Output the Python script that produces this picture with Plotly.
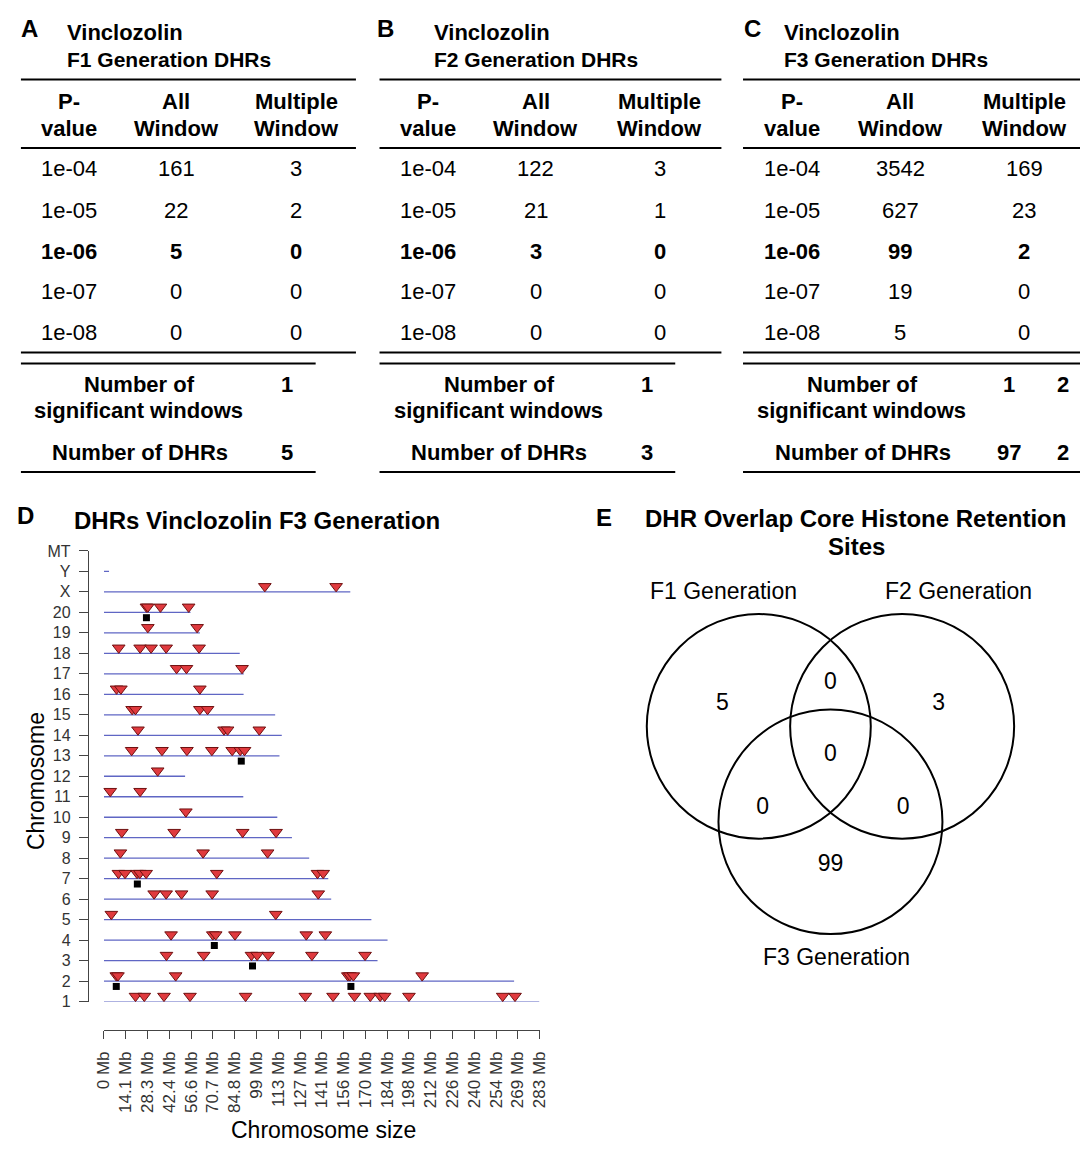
import plotly.graph_objects as go

# The page body has an 8px default margin; the figure is sized and mapped to fill
# the visible window region exactly.
PAGE_OFF = 8
W, H = 1090 - PAGE_OFF, 1150 - PAGE_OFF
FONT = "Liberation Sans, Arial, Helvetica, sans-serif"


def px(x):
    return (x - PAGE_OFF) / W


def py(y):
    return 1 - (y - PAGE_OFF) / H


# ---------------- Tables A-C data ----------------
p_values = ["1e-04", "1e-05", "1e-06", "1e-07", "1e-08"]
bold_p_value = "1e-06"
f1_all_window = [161, 22, 5, 0, 0]
f1_multiple_window = [3, 2, 0, 0, 0]
f2_all_window = [122, 21, 3, 0, 0]
f2_multiple_window = [3, 1, 0, 0, 0]
f3_all_window = [3542, 627, 99, 19, 5]
f3_multiple_window = [169, 23, 2, 0, 0]
f1_significant_windows = [1]
f1_number_of_dhrs = [5]
f2_significant_windows = [1]
f2_number_of_dhrs = [3]
f3_significant_windows = [1, 2]
f3_number_of_dhrs = [97, 2]
table_generations = ["F1", "F2", "F3"]
table_letters = ["A", "B", "C"]

# ---------------- Panel D data (rat genome, Mb) ----------------
chrom_labels = ["1", "2", "3", "4", "5", "6", "7", "8", "9", "10", "11", "12", "13",
                "14", "15", "16", "17", "18", "19", "20", "X", "Y", "MT"]
chrom_length_mb = [282.8, 266.4, 177.7, 184.2, 173.7, 147.6, 145.7, 133.3, 122.1, 112.6,
                   90.5, 52.7, 114.0, 115.5, 111.2, 90.7, 90.8, 88.2, 62.3, 56.2,
                   160.0, 3.3, 0.016]

dhr_chr1 = [20.5, 26.2, 39.0, 55.9, 92.0, 130.8, 148.8, 162.7, 173.0, 179.4, 182.3, 198.1, 259.0, 267.0]
dhr_chr2 = [8.0, 9.1, 46.6, 158.4, 159.7, 162.0, 206.7]
dhr_chr3 = [40.6, 64.8, 95.8, 99.5, 106.6, 135.1, 169.6]
dhr_chr4 = [43.6, 70.7, 72.6, 85.1, 131.4, 143.8]
dhr_chr5 = [4.8, 111.6]
dhr_chr6 = [32.6, 40.4, 50.4, 70.3, 139.2]
dhr_chr7 = [9.4, 13.7, 21.5, 23.3, 27.4, 73.3, 138.7, 142.4]
dhr_chr8 = [10.7, 64.4, 106.3]
dhr_chr9 = [11.6, 45.6, 90.1, 111.8]
dhr_chr10 = [53.2]
dhr_chr11 = [4.1, 23.5]
dhr_chr12 = [34.9]
dhr_chr13 = [18.0, 37.7, 53.9, 70.1, 83.3, 88.5, 91.3]
dhr_chr14 = [22.1, 78.0, 80.3, 100.9]
dhr_chr15 = [18.3, 20.5, 62.3, 67.3]
dhr_chr16 = [8.2, 11.0, 62.3]
dhr_chr17 = [47.2, 53.6, 89.7]
dhr_chr18 = [9.6, 23.5, 30.6, 40.4, 61.8]
dhr_chr19 = [28.5, 60.5]
dhr_chr20 = [27.6, 28.5, 36.7, 55.0]
dhr_chrX = [104.5, 150.8]
dhr_chrY = []
dhr_chrMT = []

multi_dhr_chrom = ["1", "2", "2", "3", "4", "7", "13", "20"]
multi_dhr_mb = [148.3, 8.0, 160.4, 96.5, 71.7, 21.7, 89.2, 27.6]

x_tick_labels = ["0 Mb", "14.1 Mb", "28.3 Mb", "42.4 Mb", "56.6 Mb", "70.7 Mb", "84.8 Mb",
                 "99 Mb", "113 Mb", "127 Mb", "141 Mb", "156 Mb", "170 Mb", "184 Mb",
                 "198 Mb", "212 Mb", "226 Mb", "240 Mb", "254 Mb", "269 Mb", "283 Mb"]
x_tick_values = [0, 14.15, 28.3, 42.45, 56.6, 70.75, 84.9, 99.05, 113.2, 127.35, 141.5,
                 155.65, 169.8, 183.95, 198.1, 212.25, 226.4, 240.55, 254.7, 268.85, 283.0]

# ---------------- Panel E data ----------------
venn_set_labels = ["F1 Generation", "F2 Generation", "F3 Generation"]
venn_regions = ["F1 only", "F2 only", "F3 only", "F1&F2", "F1&F3", "F2&F3", "F1&F2&F3"]
venn_counts = [5, 3, 99, 0, 0, 0, 0]

# =============== layout ===============
annotations = []
shapes = []


def text(x, y, s, size=22, bold=False, xanchor="center", color="black", angle=0):
    annotations.append(dict(
        x=px(x), y=py(y), xref="paper", yref="paper",
        text=f"<b>{s}</b>" if bold else s, showarrow=False,
        xanchor=xanchor, yanchor="middle", textangle=angle,
        font=dict(size=size, color=color, family=FONT)))


def hline(x0, x1, y, width=2):
    shapes.append(dict(type="line", xref="paper", yref="paper",
                       x0=px(x0), x1=px(x1), y0=py(y), y1=py(y),
                       line=dict(color="black", width=width)))


table_specs = [
    dict(letter_x=21, title_x=57, left=12, right=353, short_right=312,
         cols=(61, 170, 292), sum_label_x=133, sum_val_x=[283],
         all_w=f1_all_window, multi_w=f1_multiple_window,
         sig=f1_significant_windows, dhrs=f1_number_of_dhrs),
    dict(letter_x=383, title_x=430, left=377, right=725, short_right=678,
         cols=(426, 536, 662), sum_label_x=499, sum_val_x=[649],
         all_w=f2_all_window, multi_w=f2_multiple_window,
         sig=f2_significant_windows, dhrs=f2_number_of_dhrs),
    dict(letter_x=757, title_x=787, left=747, right=1090, short_right=1090,
         cols=(797, 907, 1033), sum_label_x=869, sum_val_x=[1018, 1073],
         all_w=f3_all_window, multi_w=f3_multiple_window,
         sig=f3_significant_windows, dhrs=f3_number_of_dhrs),
]
row_y = [163.3, 205, 246.7, 288, 329.5]

for letter, gen, spec in zip(table_letters, table_generations, table_specs):
    text(spec["letter_x"], 21, letter, size=24, bold=True)
    text(spec["title_x"], 25, "Vinclozolin", size=22, bold=True, xanchor="left")
    text(spec["title_x"], 52, f"{gen} Generation DHRs", size=21, bold=True, xanchor="left")
    hline(spec["left"], spec["right"], 72.5)
    c0, c1, c2 = spec["cols"]
    text(c0, 95, "P-", bold=True)
    text(c0, 122, "value", bold=True)
    text(c1, 95, "All", bold=True)
    text(c1, 122, "Window", bold=True)
    text(c2, 95, "Multiple", bold=True)
    text(c2, 122, "Window", bold=True)
    hline(spec["left"], spec["right"], 142)
    for yy, pv, a, m in zip(row_y, p_values, spec["all_w"], spec["multi_w"]):
        b = pv == bold_p_value
        text(c0, yy, pv, bold=b)
        text(c1, yy, str(a), bold=b)
        text(c2, yy, str(m), bold=b)
    hline(spec["left"], spec["right"], 349.5)
    hline(spec["left"], spec["short_right"], 360.7)
    text(spec["sum_label_x"], 381.7, "Number of", bold=True)
    text(spec["sum_label_x"] - 1, 408.3, "significant windows", bold=True)
    text(spec["sum_label_x"], 451.5, "Number of DHRs", bold=True)
    for xv, s in zip(spec["sum_val_x"], spec["sig"]):
        text(xv, 381.7, str(s), bold=True)
    for xv, d in zip(spec["sum_val_x"], spec["dhrs"]):
        text(xv, 451.5, str(d), bold=True)
    hline(spec["left"], spec["short_right"], 471)

# ---------------- Panel D ----------------
fig = go.Figure()

dhr_by_chrom = [dhr_chr1, dhr_chr2, dhr_chr3, dhr_chr4, dhr_chr5, dhr_chr6, dhr_chr7,
                dhr_chr8, dhr_chr9, dhr_chr10, dhr_chr11, dhr_chr12, dhr_chr13, dhr_chr14,
                dhr_chr15, dhr_chr16, dhr_chr17, dhr_chr18, dhr_chr19, dhr_chr20,
                dhr_chrX, dhr_chrY, dhr_chrMT]
chrom_pos = {lab: i + 1 for i, lab in enumerate(chrom_labels)}

line_x, line_y = [], []
for lab, L in zip(chrom_labels, chrom_length_mb):
    line_x += [0, L, None]
    line_y += [chrom_pos[lab]] * 2 + [None]
fig.add_trace(go.Scatter(x=line_x, y=line_y, mode="lines",
                         line=dict(color="#5f66c4", width=1.3),
                         cliponaxis=False, showlegend=False, hoverinfo="skip"))

TRI_OFF, SQ_OFF = 0.27, -0.26
tri_x, tri_y = [], []
for lab, positions in zip(chrom_labels, dhr_by_chrom):
    tri_x += positions
    tri_y += [chrom_pos[lab] + TRI_OFF] * len(positions)
fig.add_trace(go.Scatter(x=tri_x, y=tri_y, mode="markers",
                         marker=dict(symbol="triangle-down", size=11, color="#e03a3e",
                                     line=dict(color="#6e1010", width=1)),
                         cliponaxis=False, showlegend=False))
fig.add_trace(go.Scatter(x=multi_dhr_mb,
                         y=[chrom_pos[c] + SQ_OFF for c in multi_dhr_chrom],
                         mode="markers",
                         marker=dict(symbol="square", size=7, color="black"),
                         cliponaxis=False, showlegend=False))

text(17, 515, "D", size=24, bold=True)
text(64, 520, "DHRs Vinclozolin F3 Generation", size=24, bold=True, xanchor="left")
text(28, 785, "Chromosome", size=23, angle=-90)
text(320, 1139, "Chromosome size", size=23)

# ---------------- Panel E ----------------
R_PX = 114.0
ORIGIN = (836, 761)
venn_x_dom = (600, 1085)
venn_y_dom = (560, 990)
venn_center_x = [-0.64, 0.64, 0.0]
venn_center_y = [0.28, 0.28, -0.57]
venn_label_x = [-0.965, 0.965, 0.0, 0.0, -0.605, 0.65, 0.0]
venn_label_y = [0.48, 0.48, -0.956, 0.667, -0.447, -0.447, 0.02]

for cx, cy in zip(venn_center_x, venn_center_y):
    shapes.append(dict(type="circle", xref="x2", yref="y2",
                       x0=cx - 1, x1=cx + 1, y0=cy - 1, y1=cy + 1,
                       line=dict(color="black", width=2)))
fig.add_trace(go.Scatter(x=venn_label_x, y=venn_label_y, mode="text",
                         text=[str(c) for c in venn_counts],
                         textfont=dict(size=23, color="black", family=FONT),
                         xaxis="x2", yaxis="y2", showlegend=False,
                         hovertext=venn_regions, hoverinfo="text"))

text(605, 517, "E", size=24, bold=True)
text(861, 518, "DHR Overlap Core Histone Retention", size=24, bold=True)
text(863, 547, "Sites", size=24, bold=True)
text(727, 592, venn_set_labels[0], size=23)
text(966, 592, venn_set_labels[1], size=23)
text(842, 963, venn_set_labels[2], size=23)

x_axis_font = dict(size=17, color="#333333", family=FONT)
y_axis_font = dict(size=16, color="#333333", family=FONT)
fig.update_layout(
    width=W, height=H,
    margin=dict(l=0, r=0, t=0, b=0),
    paper_bgcolor="white", plot_bgcolor="white",
    showlegend=False,
    xaxis=dict(domain=[px(96.5), px(540)], range=[0, 283], anchor="free",
               position=py(1037), showline=True, linecolor="#444", linewidth=1,
               ticks="outside", ticklen=8, tickcolor="#444", tickwidth=1,
               tickmode="array", tickvals=x_tick_values, ticktext=x_tick_labels,
               tickangle=-90, tickfont=x_axis_font, showgrid=False, zeroline=False,
               ticklabelstandoff=6),
    yaxis=dict(domain=[py(1008.5), py(551)], range=[1, 23], anchor="free",
               position=px(80), showline=True, linecolor="#444", linewidth=1,
               ticks="outside", ticklen=9, tickcolor="#444", tickwidth=1,
               tickmode="array", tickvals=list(range(1, len(chrom_labels) + 1)),
               ticktext=chrom_labels, tickfont=y_axis_font, showgrid=False,
               zeroline=False, ticklabelstandoff=5),
    xaxis2=dict(domain=[px(venn_x_dom[0]), px(venn_x_dom[1])],
                range=[(venn_x_dom[0] - ORIGIN[0]) / R_PX, (venn_x_dom[1] - ORIGIN[0]) / R_PX],
                anchor="y2", visible=False),
    yaxis2=dict(domain=[py(venn_y_dom[1]), py(venn_y_dom[0])],
                range=[(ORIGIN[1] - venn_y_dom[1]) / R_PX, (ORIGIN[1] - venn_y_dom[0]) / R_PX],
                anchor="x2", visible=False),
    annotations=annotations,
    shapes=shapes,
)

fig.write_html("out.html", config={"displayModeBar": False})
